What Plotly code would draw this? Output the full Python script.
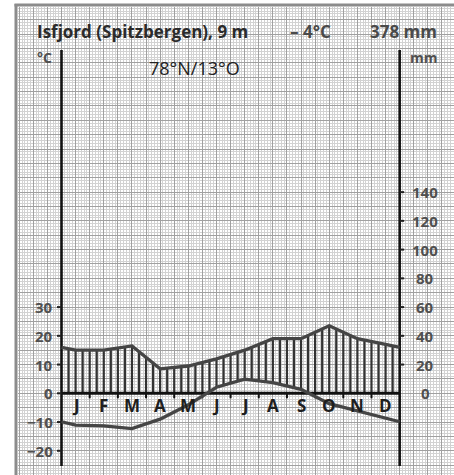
import numpy as np
import plotly.graph_objects as go

# ---------------- data ----------------
months = ["J", "F", "M", "A", "M", "J", "J", "A", "S", "O", "N", "D"]
temp_c = [-11.1, -11.3, -12.3, -9.0, -4.0, 2.1, 4.9, 3.7, 1.4, -3.6, -6.2, -8.7]
precip_mm = [30, 30, 33, 17, 19, 24, 30, 38, 38, 47, 38, 34]
temp_ticks = [-20, -10, 0, 10, 20, 30]
precip_ticks = [0, 20, 40, 60, 80, 100, 120, 140]
title_station = "Isfjord (Spitzbergen), 9 m"
title_temp = "– 4°C"
title_precip = "378 mm"
title_coords = "78°N/13°O"

# ---------------- geometry (screen pixels) ----------------
W, H = 454, 475
X0, XW = 61.5, 28.18                 # left axis px, px per month
Y0, YK = 393.3, 2.874                # zero line px, px per °C

def mx(px):  # px -> month units
    return (px - X0) / XW

def ty(py):  # px -> °C units
    return (Y0 - py) / YK

def fx(px):  # px -> paper
    return px / W

def fy(py):
    return 1 - py / H

fig = go.Figure()

# background millimetre grid (subplot xy), ranges in px
GX0, GY0 = 17.5, 6.5
fig.add_trace(go.Scatter(x=[GX0, W], y=[GY0, H], mode="markers",
                         marker=dict(opacity=0), hoverinfo="skip",
                         showlegend=False, xaxis="x", yaxis="y"))

# curves with wrap-around edges
xc = [0] + [i + 0.5 for i in range(12)] + [12]
t_edge = (temp_c[0] + temp_c[-1]) / 2
p_half = [p / 2 for p in precip_mm]
p_edge = (p_half[0] + p_half[-1]) / 2
tc = [t_edge] + temp_c + [t_edge]
pc = [p_edge] + p_half + [p_edge]

# hatching (humid period): vertical lines from max(T,0) to P/2
hx, hy = [], []
for k in range(1, 48):
    xi = k / 4
    ti = np.interp(xi, xc, tc)
    pi = np.interp(xi, xc, pc)
    lo = max(ti, 0)
    if pi > lo:
        hx += [xi, xi, None]
        hy += [lo, pi, None]
fig.add_trace(go.Scatter(x=hx, y=hy, mode="lines",
                         line=dict(color="#333333", width=2.2),
                         hoverinfo="skip", showlegend=False,
                         xaxis="x2", yaxis="y2"))

# axes lines
ax_top, ax_bot = ty(50), ty(466)
for xv in (0, 12):
    fig.add_trace(go.Scatter(x=[xv, xv], y=[ax_bot, ax_top], mode="lines",
                             line=dict(color="#111111", width=2.6),
                             hoverinfo="skip", showlegend=False,
                             xaxis="x2", yaxis="y2"))
# zero line
fig.add_trace(go.Scatter(x=[0, 12], y=[0, 0], mode="lines",
                         line=dict(color="#111111", width=3),
                         hoverinfo="skip", showlegend=False,
                         xaxis="x2", yaxis="y2"))
# month boundary ticks
mtx, mty = [], []
for b in range(1, 12):
    mtx += [b, b, None]
    mty += [0, -5 / YK, None]
fig.add_trace(go.Scatter(x=mtx, y=mty, mode="lines",
                         line=dict(color="#111111", width=2),
                         hoverinfo="skip", showlegend=False,
                         xaxis="x2", yaxis="y2"))
# left / right ticks
ltx, lty = [], []
for t in temp_ticks:
    ltx += [-4.5 / XW, 0, None]
    lty += [t, t, None]
for p in precip_ticks[1:]:
    ltx += [12, 12 + 4.5 / XW, None]
    lty += [p / 2, p / 2, None]
fig.add_trace(go.Scatter(x=ltx, y=lty, mode="lines",
                         line=dict(color="#222222", width=2),
                         hoverinfo="skip", showlegend=False,
                         xaxis="x2", yaxis="y2"))

# precipitation and temperature curves
fig.add_trace(go.Scatter(x=xc, y=pc, mode="lines",
                         line=dict(color="#454545", width=3.3),
                         hoverinfo="skip", showlegend=False,
                         xaxis="x2", yaxis="y2"))
fig.add_trace(go.Scatter(x=xc, y=tc, mode="lines",
                         line=dict(color="#454545", width=3.3),
                         hoverinfo="skip", showlegend=False,
                         xaxis="x2", yaxis="y2"))

ann = []
FONT = "Open Sans"
for i, m in enumerate(months):
    ann.append(dict(x=i + 0.5, y=ty(405), xref="x2", yref="y2", text=m,
                    showarrow=False, xanchor="center", yanchor="middle",
                    font=dict(family=FONT, size=17, color="#1e1e1e", weight="bold")))
for t in temp_ticks:
    lab = str(t).replace("-", "−")
    ann.append(dict(x=mx(55), y=t, xref="x2", yref="y2", text=lab,
                    showarrow=False, xanchor="right", yanchor="middle",
                    font=dict(family=FONT, size=15, color="#505050", weight="bold")))
for p in precip_ticks:
    ann.append(dict(x=mx(425), y=p / 2, xref="x2", yref="y2", text=str(p),
                    showarrow=False, xanchor="center", yanchor="middle",
                    font=dict(family=FONT, size=15, color="#505050", weight="bold")))

def pa(px, py, text, anchor, size, color, weight="bold"):
    ann.append(dict(x=fx(px), y=fy(py), xref="paper", yref="paper", text=text,
                    showarrow=False, xanchor=anchor, yanchor="middle",
                    font=dict(family=FONT, size=size, color=color, weight=weight)))

pa(35, 32, title_station, "left", 17, "#2b2b2b")
pa(288, 32, title_temp, "left", 17, "#4a4a4a")
pa(439, 32, title_precip, "right", 17, "#4a4a4a")
pa(35, 57, "°C", "left", 14, "#505050")
pa(440, 57, "mm", "right", 14, "#505050")
pa(194, 68, title_coords, "center", 18, "#222222", "normal")

shapes = [
    dict(type="line", xref="paper", yref="paper", x0=fx(16), x1=fx(16),
         y0=0, y1=fy(4), line=dict(color="#8c8c8c", width=3)),
    dict(type="line", xref="paper", yref="paper", x0=fx(14.5), x1=1,
         y0=fy(5), y1=fy(5), line=dict(color="#8c8c8c", width=3)),
]

fig.update_layout(
    width=W, height=H, margin=dict(l=0, r=0, t=0, b=0),
    paper_bgcolor="white", plot_bgcolor="rgba(0,0,0,0)",
    showlegend=False, annotations=ann, shapes=shapes,
    xaxis=dict(domain=[fx(GX0), 1], range=[GX0, W], showticklabels=False,
               ticks="", zeroline=False, showline=False,
               showgrid=True, gridcolor="#a0a0a0", gridwidth=1,
               tick0=X0, dtick=XW / 2,
               minor=dict(tick0=X0, dtick=XW / 10, showgrid=True,
                          gridcolor="#d2d2d2", gridwidth=1)),
    yaxis=dict(domain=[0, fy(GY0)], range=[H, GY0], showticklabels=False,
               ticks="", zeroline=False, showline=False,
               showgrid=True, gridcolor="#a0a0a0", gridwidth=1,
               tick0=Y0, dtick=YK * 5,
               minor=dict(tick0=Y0, dtick=YK, showgrid=True,
                          gridcolor="#d2d2d2", gridwidth=1)),
    xaxis2=dict(domain=[0, 1], range=[mx(0), mx(W)], anchor="y2",
                visible=False, showgrid=False, zeroline=False),
    yaxis2=dict(domain=[0, 1], range=[ty(H), ty(0)], anchor="x2",
                visible=False, showgrid=False, zeroline=False),
)

fig.write_html("out.html",
               config={"displayModeBar": False, "staticPlot": True},
               post_script="document.body.style.margin='0';"
                           "document.body.style.overflow='hidden';")
